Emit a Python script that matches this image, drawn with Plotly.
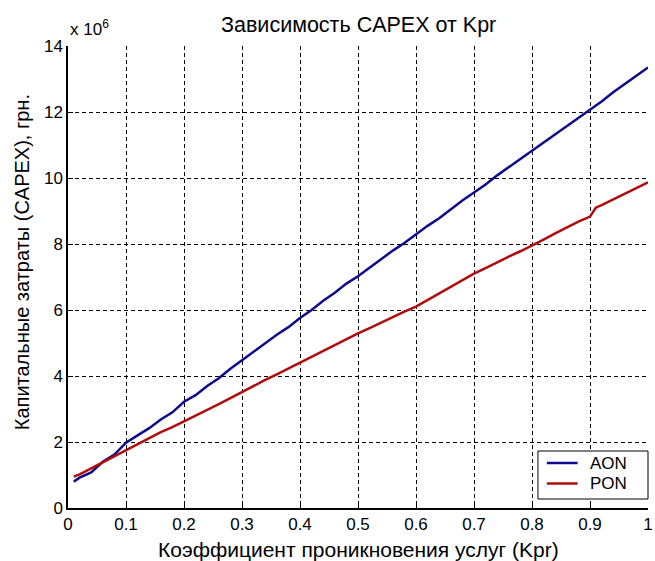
import plotly.graph_objects as go

# x sample points (Kpr)
kpr = [0.01, 0.02, 0.04, 0.06, 0.08, 0.10, 0.12, 0.14, 0.16, 0.18, 0.20,
       0.22, 0.24, 0.26, 0.28, 0.30, 0.32, 0.34, 0.36, 0.38, 0.40,
       0.42, 0.44, 0.46, 0.48, 0.50, 0.52, 0.54, 0.56, 0.58, 0.60,
       0.62, 0.64, 0.66, 0.68, 0.70, 0.72, 0.74, 0.76, 0.78, 0.80,
       0.82, 0.84, 0.86, 0.88, 0.90, 0.91, 0.92, 0.94, 0.96, 0.98, 1.00]

# CAPEX, x 10^6 грн.
aon = [0.80, 0.92, 1.08, 1.40, 1.62, 1.98, 2.20, 2.42, 2.68, 2.90, 3.22,
       3.42, 3.70, 3.93, 4.22, 4.48, 4.72, 4.98, 5.25, 5.48, 5.76,
       6.00, 6.28, 6.52, 6.80, 7.02, 7.28, 7.55, 7.80, 8.03, 8.30,
       8.55, 8.78, 9.05, 9.32, 9.56, 9.80, 10.08, 10.33, 10.57, 10.83,
       11.06, 11.33, 11.58, 11.82, 12.08, 12.18, 12.32, 12.60, 12.85, 13.10, 13.35]
pon = [0.95, 1.02, 1.20, 1.38, 1.57, 1.76, 1.94, 2.12, 2.30, 2.45, 2.62,
       2.80, 2.97, 3.15, 3.33, 3.52, 3.70, 3.88, 4.05, 4.23, 4.41,
       4.58, 4.76, 4.94, 5.12, 5.29, 5.45, 5.62, 5.79, 5.95, 6.10,
       6.30, 6.50, 6.70, 6.90, 7.10, 7.27, 7.45, 7.62, 7.78, 7.95,
       8.13, 8.32, 8.50, 8.68, 8.83, 9.10, 9.18, 9.35, 9.52, 9.70, 9.87]

series_names = ["AON", "PON"]
series_colors = ["#0b0b8c", "#b00c0c"]

x_ticks = [0, 0.1, 0.2, 0.3, 0.4, 0.5, 0.6, 0.7, 0.8, 0.9, 1]
x_labels = ["0", "0.1", "0.2", "0.3", "0.4", "0.5", "0.6", "0.7", "0.8", "0.9", "1"]
y_ticks = [0, 2, 4, 6, 8, 10, 12, 14]

FONT = "Liberation Sans, Arial, sans-serif"

fig = go.Figure()
for name, vals, col in zip(series_names, [aon, pon], series_colors):
    fig.add_trace(go.Scatter(x=kpr, y=vals, mode="lines", name=name,
                             line=dict(color=col, width=2.5), showlegend=False))

W, H = 655, 561
L, R, T, B = 68, 2, 46, 53
PW, PH = W - L - R, H - T - B


def px_x(p):
    return (p - L) / PW


def px_y(p):
    return (H - B - p) / PH


# legend box (MATLAB-style)
shapes = [dict(type="rect", xref="paper", yref="paper",
               x0=px_x(542), x1=px_x(653), y0=px_y(499), y1=px_y(451),
               line=dict(color="black", width=1), fillcolor="white", layer="above")]
annotations = []
for i, (name, col) in enumerate(zip(series_names, series_colors)):
    yy = 463 + i * 20.5
    shapes.append(dict(type="line", xref="paper", yref="paper",
                       x0=px_x(551), x1=px_x(582), y0=px_y(yy), y1=px_y(yy),
                       line=dict(color=col, width=2.5), layer="above"))
    annotations.append(dict(text=name, xref="paper", yref="paper",
                            x=px_x(592), y=px_y(yy), xanchor="left", yanchor="middle",
                            showarrow=False, font=dict(size=17)))

annotations += [
    dict(text="Зависимость CAPEX от Kpr", xref="paper", yref="paper",
         x=0.5, y=1, yshift=21, xanchor="center", yanchor="middle",
         showarrow=False, font=dict(size=21.5)),
    dict(text="x 10<sup>6</sup>", xref="paper", yref="paper",
         x=0, y=1, yshift=5, xanchor="left", yanchor="bottom",
         showarrow=False, font=dict(size=17)),
    dict(text="Капитальные затраты (CAPEX), грн.", xref="paper", yref="paper",
         x=0, y=0.532, xshift=-46, xanchor="center", yanchor="middle",
         textangle=-90, showarrow=False, font=dict(size=20)),
    dict(text="Коэффициент проникновения услуг (Kpr)", xref="paper", yref="paper",
         x=0.5, y=0, yshift=-41, xanchor="center", yanchor="middle",
         showarrow=False, font=dict(size=21)),
]

fig.update_layout(
    width=W, height=H,
    margin=dict(l=L, r=R, t=T, b=B, pad=0),
    paper_bgcolor="white", plot_bgcolor="white",
    font=dict(family=FONT, size=17, color="black"),
    showlegend=False,
    xaxis=dict(range=[0, 1], tickvals=x_ticks, ticktext=x_labels,
               showgrid=True, gridcolor="black", gridwidth=1, griddash="4px,3px",
               showline=True, linecolor="black", linewidth=1.5, mirror=False,
               ticks="inside", ticklen=5, tickcolor="black",
               ticklabeloverflow="allow",
               zeroline=False, tickfont=dict(size=17)),
    yaxis=dict(range=[0, 14], tickvals=y_ticks,
               showgrid=True, gridcolor="black", gridwidth=1, griddash="4px,3px",
               showline=True, linecolor="black", linewidth=1.5, mirror=False,
               ticks="inside", ticklen=5, tickcolor="black",
               zeroline=False, tickfont=dict(size=17)),
    shapes=shapes,
    annotations=annotations,
)

fig.write_html("out.html")
